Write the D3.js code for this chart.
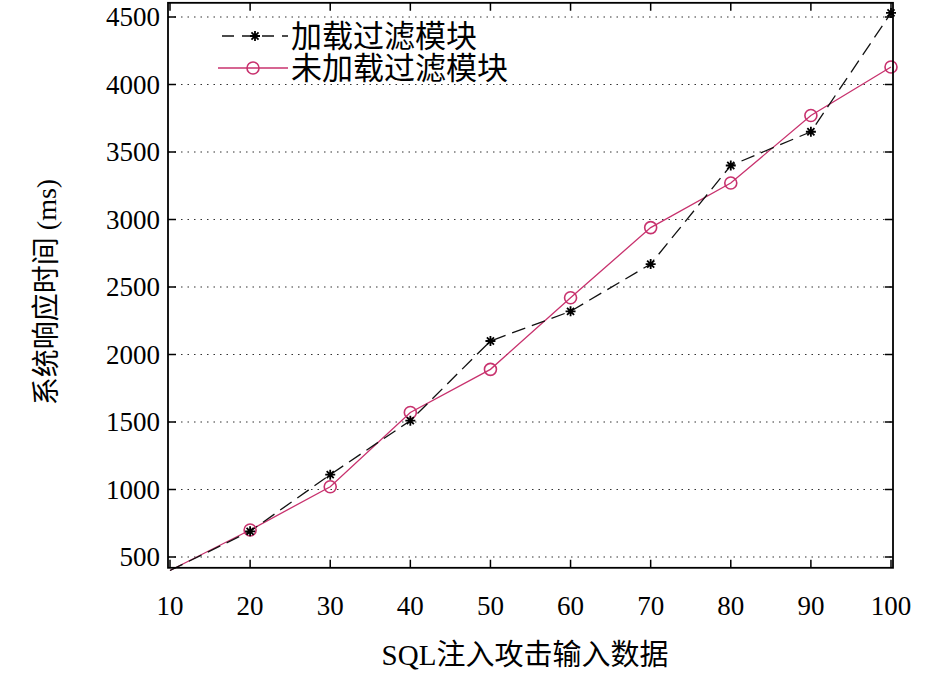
<!DOCTYPE html>
<html><head><meta charset="utf-8">
<script src="https://cdn.jsdelivr.net/npm/d3@7"></script>
<style>body{margin:0;background:#fff}text{font-family:"Liberation Serif","Noto Sans CJK SC",serif}</style>
</head><body><svg id="c" width="946" height="675"></svg>
<script>
// data
var inputs = [10, 20, 30, 40, 50, 60, 70, 80, 90, 100];
var withFilter = [400, 690, 1110, 1510, 2100, 2320, 2670, 3400, 3650, 4530];
var withoutFilter = [400, 700, 1020, 1570, 1890, 2420, 2940, 3270, 3770, 4130];
var yTicks = [500, 1000, 1500, 2000, 2500, 3000, 3500, 4000, 4500];
var names = ["加载过滤模块", "未加载过滤模块"];

var svg = d3.select("#c");
var x = d3.scaleLinear().domain([10, 100]).range([170, 891]);
var y = d3.scaleLinear().domain([500, 4500]).range([557, 17]);
var L = 168, R = 893, T = y(4605), B = y(420);
var red = "#c8326e";

// grid
svg.selectAll(".g").data(yTicks).enter().append("line")
	.attr("x1", L).attr("x2", R).attr("y1", function(d) { return y(d); }).attr("y2", function(d) { return y(d); })
	.attr("stroke", "#333").attr("stroke-width", 1.2).attr("stroke-dasharray", "1.5,5");

// ticks inward
svg.selectAll(".yt").data(yTicks).enter().append("path")
	.attr("d", function(d) { return "M" + L + "," + y(d) + "h8M" + R + "," + y(d) + "h-8"; })
	.attr("stroke", "#000").attr("stroke-width", 1.5);
svg.selectAll(".xt").data(inputs).enter().append("path")
	.attr("d", function(d) { return "M" + x(d) + "," + B + "v-8M" + x(d) + "," + T + "v8"; })
	.attr("stroke", "#000").attr("stroke-width", 1.5);

svg.selectAll(".yl").data(yTicks).enter().append("text")
	.attr("x", L - 8).attr("y", function(d) { return y(d) + 9; })
	.attr("text-anchor", "end").attr("font-size", 27).text(function(d) { return d; });
svg.selectAll(".xl").data(inputs).enter().append("text")
	.attr("x", function(d) { return x(d); }).attr("y", 615)
	.attr("text-anchor", "middle").attr("font-size", 27).text(function(d) { return d; });

svg.append("text").attr("x", 525).attr("y", 665).attr("text-anchor", "middle")
	.attr("font-size", 29).text("SQL注入攻击输入数据");
svg.append("text").attr("transform", "translate(56,292) rotate(-90)").attr("text-anchor", "middle")
	.attr("font-size", 28).text("系统响应时间 (ms)");

var line = d3.line().x(function(d, i) { return x(inputs[i]); }).y(function(d) { return y(d); });

svg.append("path").attr("d", line(withoutFilter)).attr("fill", "none").attr("stroke", red).attr("stroke-width", 1.3);
svg.append("path").attr("d", line(withFilter)).attr("fill", "none").attr("stroke", "#111")
	.attr("stroke-width", 1.3).attr("stroke-dasharray", "14,7");

function star(g, cx, cy) {
	var p = "";
	[0, 45, 90, 135].forEach(function(a) {
		var r = a * Math.PI / 180, dx = 5 * Math.cos(r), dy = 5 * Math.sin(r);
		p += "M" + (cx - dx) + "," + (cy - dy) + "L" + (cx + dx) + "," + (cy + dy);
	});
	g.append("path").attr("d", p).attr("stroke", "#000").attr("stroke-width", 1.8);
}
function circ(g, cx, cy) {
	g.append("circle").attr("cx", cx).attr("cy", cy).attr("r", 6)
		.attr("fill", "none").attr("stroke", red).attr("stroke-width", 1.6);
}
withoutFilter.forEach(function(d, i) { if (i > 0) circ(svg, x(inputs[i]), y(d)); });
withFilter.forEach(function(d, i) { if (i > 0) star(svg, x(inputs[i]), y(d)); });

// frame
svg.append("rect").attr("x", L).attr("y", T).attr("width", R - L).attr("height", B - T)
	.attr("fill", "none").attr("stroke", "#000").attr("stroke-width", 1.8);

// legend
var lg = svg.append("g");
lg.append("rect").attr("x", 215).attr("y", 18).attr("width", 300).attr("height", 66).attr("fill", "#fff");
lg.append("line").attr("x1", 222).attr("x2", 288).attr("y1", 36).attr("y2", 36)
	.attr("stroke", "#111").attr("stroke-width", 1.5).attr("stroke-dasharray", "12,8");
star(lg, 255, 36);
lg.append("line").attr("x1", 218).attr("x2", 288).attr("y1", 68).attr("y2", 68)
	.attr("stroke", red).attr("stroke-width", 1.5);
circ(lg, 253, 68);
lg.selectAll(".lt").data(names).enter().append("text")
	.attr("x", 291).attr("y", function(d, i) { return 47 + i * 32; })
	.attr("font-size", 31).text(function(d) { return d; });
</script></body></html>
